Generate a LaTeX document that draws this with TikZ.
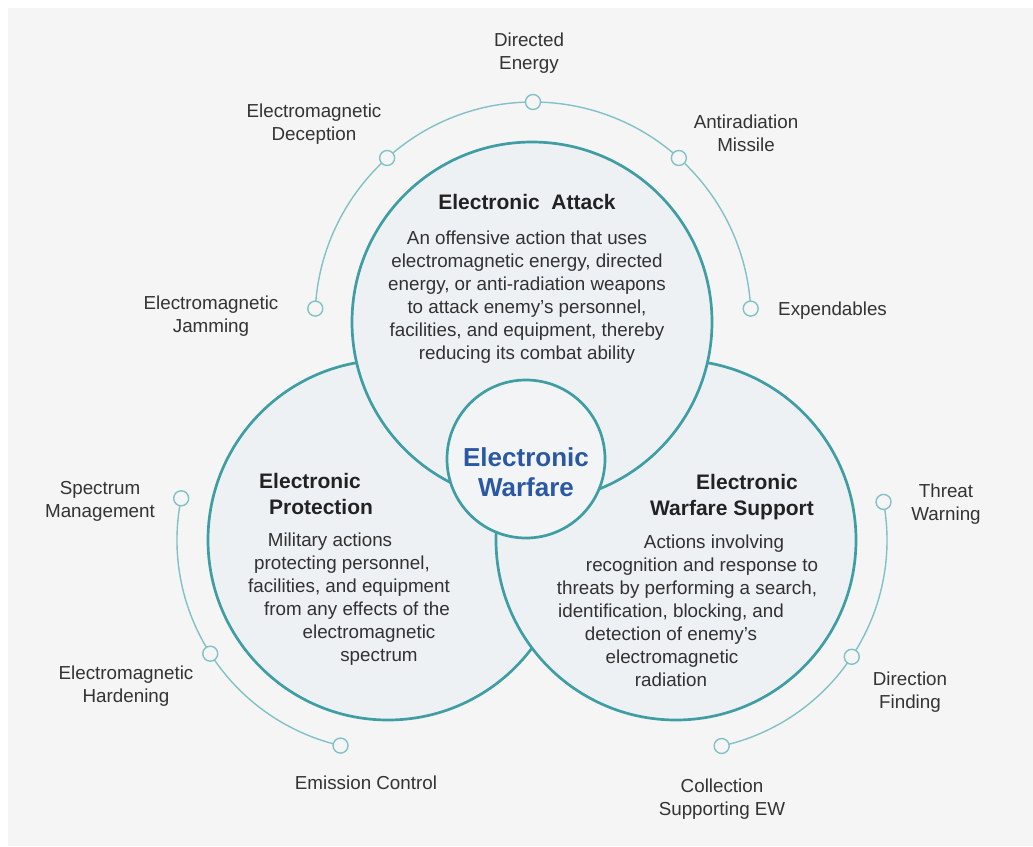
\documentclass[tikz,border=0pt]{standalone}
\usepackage{fontspec}
\setmainfont{Liberation Sans}
\usetikzlibrary{calc}
\definecolor{bgc}{HTML}{F5F5F5}
\definecolor{discfill}{HTML}{EEF1F4}
\definecolor{corefill}{HTML}{F2F4F6}
\definecolor{ringc}{HTML}{3F9EA3}
\definecolor{orbitc}{HTML}{80C2C6}
\definecolor{labelc}{HTML}{333333}
\definecolor{headc}{HTML}{222222}
\definecolor{bodyc}{HTML}{313131}
\definecolor{corec}{HTML}{2A58A3}
\begin{document}
\begin{tikzpicture}[x=1pt,y=-1pt,
  ring/.style={circle, draw=ringc, line width=2.7pt, fill=discfill, inner sep=0pt},
  orbit/.style={draw=orbitc, line width=1.4pt},
  dot/.style={circle, draw=orbitc, line width=1.4pt, fill=bgc, minimum size=15pt, inner sep=0pt},
  lbl/.style={text=labelc, font=\fontsize{18.8}{23}\selectfont, align=center, inner sep=0pt, yshift=-2pt},
  body/.style={text=bodyc, font=\fontsize{18.8}{23}\selectfont, inner sep=0pt, text height=13.5pt, text depth=4pt, yshift=-2pt},
  head/.style={text=headc, font=\fontsize{21}{26}\selectfont\bfseries, inner sep=0pt, text height=15pt, text depth=4.5pt, yshift=-2pt},
]
% canvas
\fill[white] (0,0) rectangle (1033,846);
\fill[bgc] (8,8) rectangle (1033,846);
\useasboundingbox (0,0) rectangle (1033,846);

% the three overlapping discs and the core
\node[ring, minimum size=360pt] (ep) at (388,540) {};
\node[ring, minimum size=360pt] (es) at (676,540) {};
\node[ring, minimum size=360pt] (ea) at (532,322) {};
\node[ring, fill=corefill, minimum size=158pt] (ew) at (526,459) {};

% orbits with their markers
\coordinate (oa) at (533,320);
\coordinate (op) at (388,540);
\coordinate (os) at (676,540);
\draw[orbit] ([shift={(-177:218)}]oa) arc[start angle=-177, end angle=-3, radius=218];
\draw[orbit] ([shift={(-168.6:211)}]op) arc[start angle=-168.6, end angle=-257, radius=211];
\draw[orbit] ([shift={(-10.4:211)}]os) arc[start angle=-10.4, end angle=77.5, radius=211];

\node[dot] (dJam) at ([shift={(-177:218)}]oa) {};
\node[dot] (dDec) at ([shift={(-132:218)}]oa) {};
\node[dot] (dDir) at ([shift={(-90:218)}]oa) {};
\node[dot] (dAnt) at ([shift={(-48:218)}]oa) {};
\node[dot] (dExp) at ([shift={(-3:218)}]oa) {};
\node[dot] (dSpe) at ([shift={(-168.6:211)}]op) {};
\node[dot] (dHar) at ([shift={(-212.6:211)}]op) {};
\node[dot] (dEmi) at ([shift={(-257:211)}]op) {};
\node[dot] (dThr) at ([shift={(-10.4:211)}]os) {};
\node[dot] (dDfi) at ([shift={(33.6:211)}]os) {};
\node[dot] (dCol) at ([shift={(77.5:211)}]os) {};

% outer labels
\node[lbl] (lDir) at (529,51) {Directed\\Energy};
\node[lbl] (lDec) at (314,122) {Electromagnetic\\Deception};
\node[lbl] (lAnt) at (746,131) {Antiradiation\\Missile};
\node[lbl] (lJam) at (211,314) {Electromagnetic\\Jamming};
\node[lbl, anchor=west] (lExp) at (778,309) {Expendables};
\node[lbl] (lSpe) at (100,499) {Spectrum\\Management};
\node[lbl] (lThr) at (946,502) {Threat\\Warning};
\node[lbl] (lHar) at (126,684) {Electromagnetic\\Hardening};
\node[lbl] (lDfi) at (910,690) {Direction\\Finding};
\node[lbl] (lEmi) at (366,781) {Emission Control};
\node[lbl] (lCol) at (722,797) {Collection\\Supporting EW};

% Electronic Attack
\node[head] (eaT) at (527,202) {Electronic\ \ Attack};
\node[lbl, text=bodyc] (eaB) at (527,295) {An offensive action that uses\\electromagnetic energy, directed\\energy, or anti-radiation weapons\\to attack enemy's personnel,\\facilities, and equipment, thereby\\reducing its combat ability};

% Electronic Protection
\node[head] (epT1) at (310,481) {Electronic};
\node[head] (epT2) at (321,507) {Protection};
\foreach \px/\py/\t [count=\i] in {330/540/{Military actions},
    342/563/{protecting personnel,},
    349/586/{facilities, and equipment},
    357/609/{from any effects of the},
    369/632/{electromagnetic},
    379/655/{spectrum}}
  \node[body] (epB\i) at (\px,\py) {\t};

% Electronic Warfare Support
\node[head] (esT1) at (747,482) {Electronic};
\node[head] (esT2) at (732,508) {Warfare Support};
\foreach \px/\py/\t [count=\i] in {714/542/{Actions involving},
    702/565/{recognition and response to},
    687/588/{threats by performing a search,},
    671/611/{identification, blocking, and},
    671/634/{detection of enemy's},
    672/657/{electromagnetic},
    671/680/{radiation}}
  \node[body] (esB\i) at (\px,\py) {\t};

% core
\node[text=corec, font=\fontsize{26}{30}\selectfont\bfseries, align=center, inner sep=0pt, yshift=-1pt] (ewT) at (526,471) {Electronic\\Warfare};
\end{tikzpicture}
\end{document}
